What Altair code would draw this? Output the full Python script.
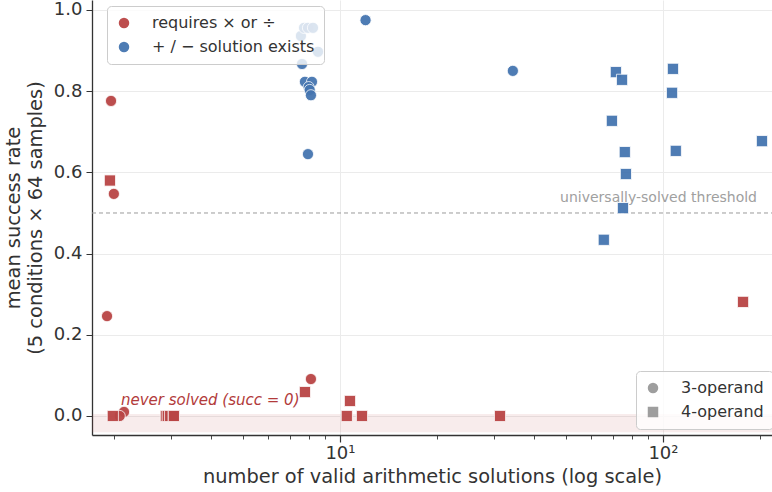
import altair as alt
import pandas as pd

# ---- data ----
red_circle_x = [1.955, 1.995, 1.90, 2.145, 2.08, 8.13]
red_circle_y = [0.776, 0.547, 0.246, 0.010, 0.000, 0.091]

red_square_x = [1.94, 1.98, 2.89, 2.93, 2.98, 3.06, 3.06, 7.79, 10.74, 10.5, 11.7, 31.3, 177.0]
red_square_y = [0.580, 0.000, 0.000, 0.000, 0.000, 0.000, 0.000, 0.059, 0.037, 0.000, 0.000, 0.000, 0.281]

blue_circle_x = [12.0, 34.3, 7.57, 7.74, 7.96, 8.25, 8.55, 7.63, 7.79, 8.19, 8.0, 8.06, 8.13, 7.96]
blue_circle_y = [0.975, 0.850, 0.936, 0.956, 0.956, 0.956, 0.897, 0.867, 0.823, 0.823, 0.810, 0.803, 0.790, 0.645]

blue_square_x = [71.5, 74.7, 107.4, 106.7, 69.5, 76.2, 109.6, 202.6, 76.8, 75.2, 65.6]
blue_square_y = [0.847, 0.828, 0.855, 0.796, 0.727, 0.650, 0.653, 0.677, 0.596, 0.512, 0.434]

groups = ["requires × or ÷", "+ / − solution exists"]
operands = ["3-operand", "4-operand"]
group_colors = ["#b94545", "#4575b0"]

x_ticks = [2, 3, 4, 5, 6, 7, 8, 9, 10, 20, 30, 40, 50, 60, 70, 80, 90, 100, 200]
y_ticks = [0.0, 0.2, 0.4, 0.6, 0.8, 1.0]
x_domain = [1.707, 217.6]
y_domain = [-0.0468, 1.0246]
threshold = 0.5
band = [-0.04, 0.005]

rows = []
for xs, ys, g, o in [
    (red_circle_x, red_circle_y, groups[0], operands[0]),
    (red_square_x, red_square_y, groups[0], operands[1]),
    (blue_circle_x, blue_circle_y, groups[1], operands[0]),
    (blue_square_x, blue_square_y, groups[1], operands[1]),
]:
    for a, b in zip(xs, ys):
        rows.append({"n": a, "succ": b, "group": g, "operand": o})
df = pd.DataFrame(rows)

FONT = "DejaVu Sans"
major = "datum.value == 10 || datum.value == 100"

xscale = alt.Scale(type="log", domain=x_domain, nice=False)
yscale = alt.Scale(domain=y_domain, nice=False, zero=False)

xaxis = alt.Axis(
    values=x_ticks,
    labelExpr="datum.value == 10 ? '10¹' : datum.value == 100 ? '10²' : ''",
    title="number of valid arithmetic solutions (log scale)",
    tickSize={"condition": {"test": major, "value": 7}, "value": 4},
    tickWidth={"condition": {"test": major, "value": 1.2}, "value": 0.9},
    gridOpacity={"condition": {"test": major, "value": 1}, "value": 0},
    labelFlush=False,
    labelFontSize=18,
    labelPadding=2,
    titleFontSize=19.4,
    titlePadding=5,
)
yaxis = alt.Axis(
    values=y_ticks,
    format=".1f",
    title=["mean success rate", "(5 conditions × 64 samples)"],
    tickSize=6,
    labelFontSize=18,
    labelPadding=4,
    titleFontSize=19.4,
    titlePadding=8,
)

band_df = pd.DataFrame({"y": [band[0]], "y2": [band[1]]})
band_layer = alt.Chart(band_df).mark_rect(color="#b94545", opacity=0.1).encode(
    x=alt.value(0), x2=alt.value(680),
    y=alt.Y("y:Q", scale=yscale, axis=yaxis), y2="y2:Q",
)

thr_df = pd.DataFrame({"y": [threshold]})
thr_layer = alt.Chart(thr_df).mark_rule(color="#9a9a9a", strokeDash=[4, 3], strokeWidth=1).encode(
    x=alt.value(0), x2=alt.value(680), y=alt.Y("y:Q", scale=yscale)
)
thr_text = alt.Chart(pd.DataFrame({"y": [0.527], "t": ["universally-solved threshold"]})).mark_text(
    align="right", baseline="alphabetic", font=FONT, fontSize=14, color="#a0a0a0"
).encode(x=alt.value(665), y=alt.Y("y:Q", scale=yscale), text="t:N")

never_text = alt.Chart(pd.DataFrame({"y": [0.027], "t": ["never solved (succ = 0)"]})).mark_text(
    align="left", baseline="alphabetic", font=FONT, fontSize=15, fontStyle="italic", color="#b23b3b"
).encode(x=alt.value(29), y=alt.Y("y:Q", scale=yscale), text="t:N")

legend_common = dict(
    title=None, orient="none", symbolSize=110, labelFontSize=16, labelColor="#333",
    labelFont=FONT, labelOffset=20, rowPadding=8, padding=9, labelLimit=400,
    strokeColor="#cccccc", fillColor="rgba(255,255,255,0.8)", cornerRadius=4,
    symbolStrokeWidth=0,
)

points = alt.Chart(df).mark_point(filled=True, opacity=0.95, stroke="white", strokeWidth=0.8).encode(
    x=alt.X("n:Q", scale=xscale, axis=xaxis),
    y=alt.Y("succ:Q", scale=yscale),
    color=alt.Color(
        "group:N",
        scale=alt.Scale(domain=groups, range=group_colors),
        legend=alt.Legend(
            legendX=15, legendY=6, symbolType="circle", symbolOpacity=0.95,
            **legend_common,
        ),
    ),
    shape=alt.Shape(
        "operand:N",
        scale=alt.Scale(domain=operands, range=["circle", "square"]),
        legend=alt.Legend(
            legendX=544, legendY=371,
            symbolFillColor="#999999", symbolStrokeColor="#999999",
            **legend_common,
        ),
    ),
    size=alt.value(125),
)

chart = alt.layer(band_layer, thr_layer, thr_text, never_text, points).resolve_scale(
    color="independent", shape="independent"
).properties(
    width=680, height=435,
    autosize=alt.AutoSizeParams(type="none"),
    padding={"left": 92, "top": 0, "right": 0, "bottom": 57},
).configure_view(stroke=None).configure_axis(
    labelFont=FONT, titleFont=FONT, labelColor="#333", titleColor="#333",
    titleFontWeight="normal",
    domainColor="#333", domainWidth=1.3, tickColor="#333",
    gridColor="#ebebeb", gridWidth=1,
).configure_text(font=FONT)

chart.save("out.html", embed_options={"renderer": "svg", "actions": False})
